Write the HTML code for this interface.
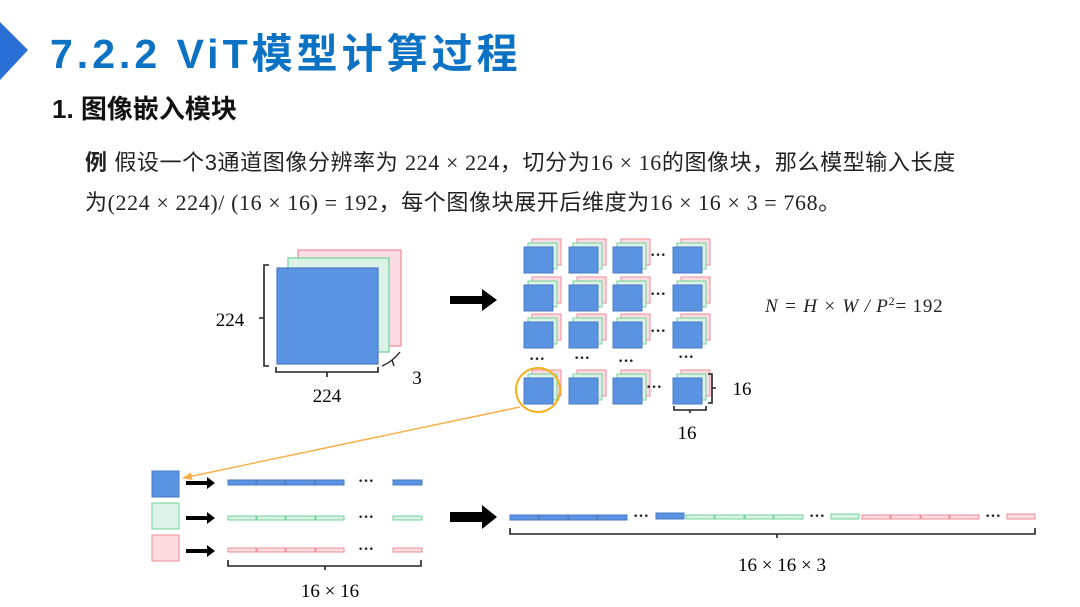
<!DOCTYPE html>
<html><head><meta charset="utf-8"><style>
html,body{margin:0;padding:0;background:#fff;}
svg{display:block;}
.t{font-family:"Liberation Sans","Noto Sans CJK SC",sans-serif;}
.s{font-family:"Liberation Serif","Noto Serif CJK SC",serif;}
</style></head><body>
<svg width="1080" height="607" viewBox="0 0 1080 607" xmlns="http://www.w3.org/2000/svg">
<defs>
<marker id="oa" markerWidth="10" markerHeight="8" refX="9" refY="4" orient="auto" markerUnits="userSpaceOnUse"><path d="M0,0 L10,4 L0,8 Z" fill="#f5b14a"/></marker>
<g id="cell">
<rect x="8" y="-8" width="29" height="26" fill="#fbdde1" stroke="#f08a98"/>
<rect x="4" y="-4" width="29" height="26" fill="#dcf2e6" stroke="#6fd39a"/>
<rect x="0" y="0" width="29" height="26" fill="#5b93e3" stroke="#4a7bc4"/>
</g>
</defs>
<polygon points="0,22 28,50 0,80" fill="#2a6fd6"/>
<text x="50" y="68" class="t" font-size="41" font-weight="bold" fill="#0b72c4" letter-spacing="4">7.2.2 ViT模型计算过程</text>
<text x="52" y="118" class="t" font-size="26" font-weight="bold" fill="#111">1. 图像嵌入模块</text>
<text x="85" y="170" class="t" font-size="22" fill="#222" letter-spacing="0.6"><tspan font-weight="bold">例</tspan> 假设一个3通道图像分辨率为 <tspan class="s">224 × 224</tspan>，切分为<tspan class="s">16 × 16</tspan>的图像块，那么模型输入长度</text>
<text x="85" y="210" class="t" font-size="22" fill="#222" letter-spacing="0.6">为<tspan class="s">(224 × 224)/ (16 × 16) = 192</tspan>，每个图像块展开后维度为<tspan class="s">16 × 16 × 3 = 768</tspan>。</text>

<rect x="298" y="250" width="103" height="96" fill="#fbdde1" stroke="#f08a98" stroke-width="1.2"/>
<rect x="288" y="258" width="101" height="94" fill="#dcf2e6" stroke="#6fd39a" stroke-width="1.2"/>
<rect x="277" y="268" width="101" height="96" fill="#5b93e3" stroke="#4a7bc4" stroke-width="1.2"/>
<path d="M269,265 H264 V366 H269 M264,318 H259" fill="none" stroke="#222" stroke-width="1.6"/>
<path d="M276,367 V372 H378 V367 M327,372 V377" fill="none" stroke="#222" stroke-width="1.6"/>
<path d="M382,366 Q392,362 400,352 M392,360 L394,366" fill="none" stroke="#222" stroke-width="1.4"/>
<text x="230" y="326" class="s" font-size="19" text-anchor="middle">224</text>
<text x="327" y="402" class="s" font-size="19" text-anchor="middle">224</text>
<text x="417" y="384" class="s" font-size="19" text-anchor="middle">3</text>

<path d="M450,296 H482 V289 L497,300 L482,311 V304 H450 Z" fill="#000"/>

<use href="#cell" x="524" y="247"/><use href="#cell" x="569" y="247"/><use href="#cell" x="613" y="247"/><use href="#cell" x="673" y="247"/>
<use href="#cell" x="524" y="285"/><use href="#cell" x="569" y="285"/><use href="#cell" x="613" y="285"/><use href="#cell" x="673" y="285"/>
<use href="#cell" x="524" y="322"/><use href="#cell" x="569" y="322"/><use href="#cell" x="613" y="322"/><use href="#cell" x="673" y="322"/>
<use href="#cell" x="524" y="378"/><use href="#cell" x="569" y="378"/><use href="#cell" x="613" y="378"/><use href="#cell" x="673" y="378"/>
<g class="s" font-size="16" font-weight="bold" text-anchor="middle" fill="#222">
<text x="658" y="260">···</text><text x="658" y="299">···</text><text x="658" y="336">···</text><text x="654" y="392">···</text>
<text x="537" y="364">···</text><text x="582" y="363">···</text><text x="626" y="366">···</text><text x="686" y="362">···</text>
</g>
<circle cx="538" cy="390" r="22" fill="none" stroke="#f2b21c" stroke-width="2"/>
<path d="M708,374 H712 V403 H708 M712,388 H716" fill="none" stroke="#222" stroke-width="1.6"/>
<path d="M674,406 V410 H706 V406 M690,410 V413" fill="none" stroke="#222" stroke-width="1.6"/>
<text x="742" y="395" class="s" font-size="19" text-anchor="middle">16</text>
<text x="687" y="439" class="s" font-size="19" text-anchor="middle">16</text>
<text x="765" y="312" class="s" font-size="19" font-style="italic" fill="#222" letter-spacing="0.8">N = H × W / P<tspan font-size="12" dy="-7" font-style="normal">2</tspan><tspan dy="7" font-style="normal">= 192</tspan></text>

<line x1="520" y1="407" x2="183" y2="478" stroke="#f5b14a" stroke-width="1.5" marker-end="url(#oa)"/>

<rect x="152" y="471" width="27" height="26" fill="#5b93e3" stroke="#4a7bc4"/>
<rect x="152" y="503" width="27" height="26" fill="#dcf2e6" stroke="#6fd39a"/>
<rect x="152" y="535" width="27" height="26" fill="#fbdde1" stroke="#f08a98"/>
<g fill="#000">
<path d="M186,481 H207 V477 L215,483 L207,489 V485 H186 Z"/>
<path d="M186,516 H207 V512 L215,518 L207,524 V520 H186 Z"/>
<path d="M186,549 H207 V545 L215,551 L207,557 V553 H186 Z"/>
</g>
<g stroke-width="1">
<g fill="#5b93e3" stroke="#4a7bc4">
<rect x="228" y="480" width="28" height="5"/><rect x="257" y="480" width="28" height="5"/><rect x="286" y="480" width="29" height="5"/><rect x="316" y="480" width="28" height="5"/><rect x="393" y="480" width="29" height="5"/>
</g>
<g fill="#dcf2e6" stroke="#6fd39a">
<rect x="228" y="516" width="28" height="4"/><rect x="257" y="516" width="28" height="4"/><rect x="286" y="516" width="29" height="4"/><rect x="316" y="516" width="28" height="4"/><rect x="393" y="516" width="29" height="4"/>
</g>
<g fill="#fbdde1" stroke="#f08a98">
<rect x="228" y="548" width="28" height="4"/><rect x="257" y="548" width="28" height="4"/><rect x="286" y="548" width="29" height="4"/><rect x="316" y="548" width="28" height="4"/><rect x="393" y="548" width="29" height="4"/>
</g>
</g>
<g class="s" font-size="16" font-weight="bold" text-anchor="middle" fill="#222">
<text x="366" y="486">···</text><text x="366" y="522">···</text><text x="366" y="554">···</text>
</g>
<path d="M228,560 V566 H421 V560 M325,566 V570" fill="none" stroke="#222" stroke-width="1.6"/>
<text x="330" y="597" class="s" font-size="19" text-anchor="middle">16 × 16</text>

<path d="M450,512 H482 V505 L497,517 L482,529 V522 H450 Z" fill="#000"/>

<g stroke-width="1">
<g fill="#5b93e3" stroke="#4a7bc4">
<rect x="510" y="515" width="28" height="5"/><rect x="539" y="515" width="29" height="5"/><rect x="569" y="515" width="28" height="5"/><rect x="598" y="515" width="29" height="5"/><rect x="656" y="513" width="28" height="6"/>
</g>
<g fill="#dcf2e6" stroke="#6fd39a">
<rect x="686" y="515" width="28" height="4"/><rect x="715" y="515" width="29" height="4"/><rect x="745" y="515" width="28" height="4"/><rect x="774" y="515" width="29" height="4"/><rect x="831" y="514" width="28" height="5"/>
</g>
<g fill="#fbdde1" stroke="#f08a98">
<rect x="862" y="515" width="28" height="4"/><rect x="891" y="515" width="29" height="4"/><rect x="921" y="515" width="28" height="4"/><rect x="950" y="515" width="29" height="4"/><rect x="1007" y="514" width="28" height="5"/>
</g>
</g>
<g class="s" font-size="16" font-weight="bold" text-anchor="middle" fill="#222">
<text x="641" y="521">···</text><text x="817" y="521">···</text><text x="993" y="521">···</text>
</g>
<path d="M510,528 V534 H1035 V528 M777,534 V538" fill="none" stroke="#222" stroke-width="1.6"/>
<text x="782" y="571" class="s" font-size="19" text-anchor="middle">16 × 16 × 3</text>
</svg>
</body></html>
